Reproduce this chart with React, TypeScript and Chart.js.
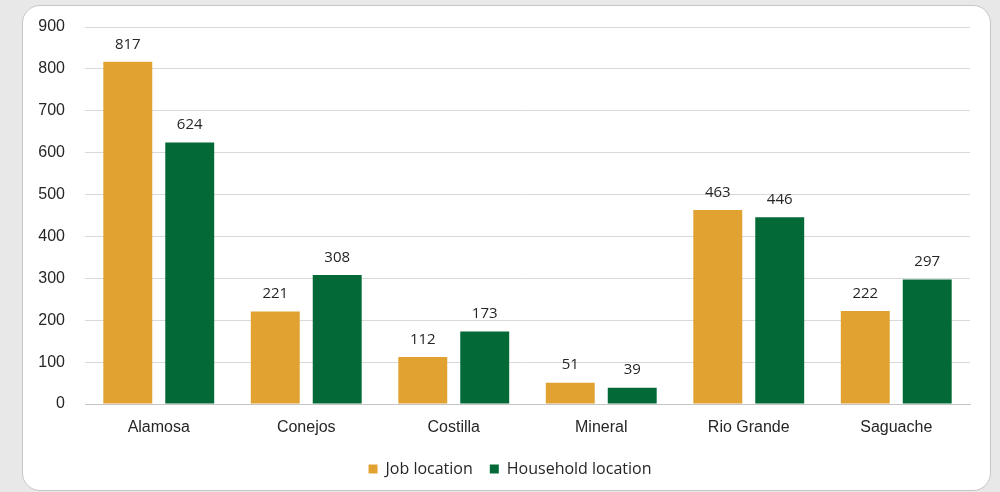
import React, { useEffect, useRef } from "react";
import { Chart, registerables } from "chart.js";

Chart.register(...registerables);

const categories = ["Alamosa", "Conejos", "Costilla", "Mineral", "Rio Grande", "Saguache"];
const jobLocation = [817, 221, 112, 51, 463, 222];
const householdLocation = [624, 308, 173, 39, 446, 297];
const seriesNames = ["Job location", "Household location"];
const yMin = 0;
const yMax = 900;
const yStep = 100;

const JOB_COLOR = "#E1A232";
const HH_COLOR = "#036A37";
const TEXT = "#262626";

const valueLabels = {
  id: "valueLabels",
  afterDatasetsDraw(chart: any) {
    const ctx = chart.ctx;
    ctx.save();
    ctx.font = "15px 'Open Sans'";
    ctx.fillStyle = TEXT;
    ctx.textAlign = "center";
    ctx.textBaseline = "bottom";
    chart.data.datasets.forEach((ds: any, i: number) => {
      const meta = chart.getDatasetMeta(i);
      meta.data.forEach((bar: any, j: number) => {
        ctx.fillText(String(ds.data[j]), bar.x, bar.y - 10);
      });
    });
    ctx.restore();
  },
};

export default function App() {
  const ref = useRef<HTMLCanvasElement>(null);

  useEffect(() => {
    if (!ref.current) return;
    const chart = new Chart(ref.current, {
      type: "bar",
      data: {
        labels: categories,
        datasets: [
          {
            label: seriesNames[0],
            data: jobLocation,
            backgroundColor: JOB_COLOR,
            categoryPercentage: 0.84,
            barPercentage: 0.79,
          },
          {
            label: seriesNames[1],
            data: householdLocation,
            backgroundColor: HH_COLOR,
            categoryPercentage: 0.84,
            barPercentage: 0.79,
          },
        ],
      },
      options: {
        responsive: false,
        animation: false,
        layout: { padding: { left: 20, right: 0, top: 27, bottom: 5 } },
        plugins: {
          tooltip: { enabled: false },
          legend: {
            position: "bottom",
            labels: {
              boxWidth: 9,
              boxHeight: 9,
              padding: 17,
              color: TEXT,
              font: { family: "'Open Sans'", size: 16 },
            },
          },
        },
        scales: {
          x: {
            grid: { display: false, drawTicks: false },
            border: { display: true, color: "#c4c4c4", width: 1 },
            ticks: {
              color: TEXT,
              padding: 14,
              font: { family: "'Liberation Sans'", size: 16 },
            },
            afterFit: (s: any) => {
              s.height = 40;
              s.paddingLeft = 0;
              s.paddingRight = 0;
            },
          },
          y: {
            min: yMin,
            max: yMax,
            ticks: {
              stepSize: yStep,
              color: TEXT,
              padding: 20,
              font: { family: "'Liberation Sans'", size: 16 },
            },
            grid: { color: "#d9d9d9", drawTicks: false },
            border: { display: false },
            afterFit: (s: any) => {
              s.width = 65;
              s.paddingTop = 0;
              s.paddingBottom = 0;
            },
          },
          yRight: {
            type: "linear",
            position: "right",
            display: true,
            grid: { display: false, drawTicks: false },
            border: { display: false },
            ticks: { display: false },
            afterFit: (s: any) => {
              s.width = 30;
              s.paddingTop = 0;
              s.paddingBottom = 0;
            },
          },
        },
      } as any,
      plugins: [valueLabels],
    });
    return () => chart.destroy();
  }, []);

  return (
    <div
      style={{
        position: "absolute",
        left: 0,
        top: 0,
        width: 1000,
        height: 492,
        background: "#e8e8e8",
        overflow: "hidden",
      }}
    >
      <div
        style={{
          position: "absolute",
          left: 22,
          top: 5,
          width: 969,
          height: 486,
          background: "#ffffff",
          border: "1.5px solid #c6c6c6",
          borderRadius: 18,
          boxSizing: "border-box",
        }}
      />
      <canvas
        ref={ref}
        width={1000}
        height={492}
        style={{ position: "absolute", left: 0, top: 0, width: 1000, height: 492 }}
      />
    </div>
  );
}
